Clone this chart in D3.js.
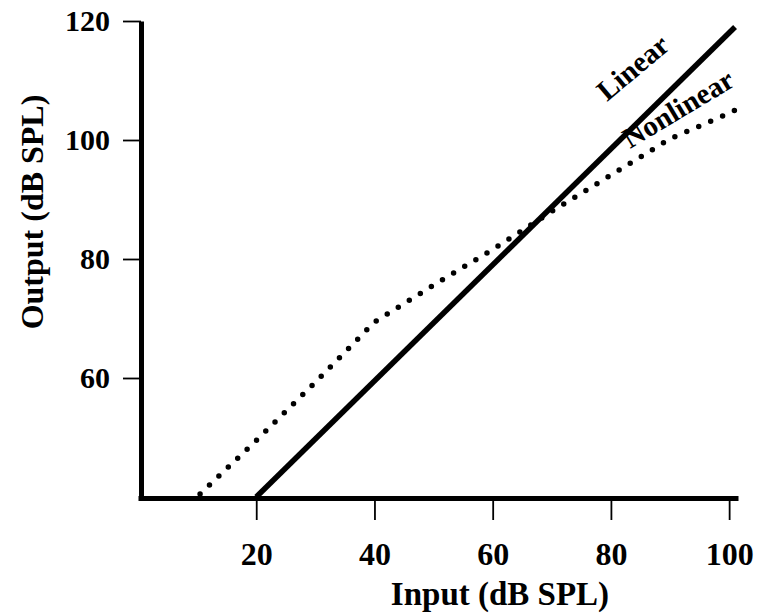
<!DOCTYPE html>
<html>
<head>
<meta charset="utf-8">
<script src="https://cdn.jsdelivr.net/npm/d3@7/dist/d3.min.js"></script>
<style>
  html, body { margin: 0; padding: 0; background: #fff; }
  svg { display: block; }
  text { font-family: "Liberation Serif", "Times New Roman", serif; font-weight: bold; fill: #000; }
</style>
</head>
<body>
<svg id="chart" width="763" height="614"></svg>
<script>
// ---- data ----
const xTicks = [20, 40, 60, 80, 100];
const yTicks = [60, 80, 100, 120];
const linearInput = [20, 101];
const linearOutput = [40, 119];
const nonlinearInput = [10.5, 20, 30, 40, 50, 60, 70, 80, 90, 100, 101];
const nonlinearOutput = [40.5, 49.5, 59.3, 69.4, 75.6, 81.6, 88.0, 94.1, 100.2, 104.5, 105];
const xTitle = "Input (dB SPL)";
const yTitle = "Output (dB SPL)";
const seriesLabels = ["Linear", "Nonlinear"];

// ---- scales ----
const svg = d3.select("#chart");
const x = d3.scaleLinear().domain([0, 101.5]).range([138, 738]);
const y = d3.scaleLinear().domain([40, 120]).range([497, 21]);
const axisX0 = 498, axisY0 = 141;

// ---- axes ----
const gx = svg.append("g").attr("transform", `translate(0,${axisX0})`)
  .call(d3.axisBottom(x).tickValues(xTicks).tickSize(22).tickSizeOuter(0).tickPadding(22));
gx.select(".domain").attr("stroke", "#000").attr("stroke-width", 5);
gx.selectAll(".tick line").attr("stroke", "#000").attr("stroke-width", 1.8);
gx.selectAll(".tick text").attr("font-size", 32).attr("font-family", "Liberation Serif").attr("font-weight", "bold").attr("fill", "#000");

const gy = svg.append("g").attr("transform", `translate(${axisY0},0)`)
  .call(d3.axisLeft(y).tickValues(yTicks).tickSize(18).tickSizeOuter(0).tickPadding(13));
gy.select(".domain").attr("stroke", "#000").attr("stroke-width", 5);
gy.selectAll(".tick line").attr("stroke", "#000").attr("stroke-width", 1.8);
gy.selectAll(".tick text").attr("font-size", 30).attr("font-family", "Liberation Serif").attr("font-weight", "bold").attr("fill", "#000");

// ---- titles ----
svg.append("text").attr("x", 500).attr("y", 605).attr("text-anchor", "middle")
  .attr("font-size", 33).text(xTitle);
svg.append("text").attr("transform", "translate(43,212) rotate(-90)").attr("text-anchor", "middle")
  .attr("font-size", 32).text(yTitle);

// ---- lines ----
const line = d3.line().x(d => x(d[0])).y(d => y(d[1]));
const linData = linearInput.map((v, i) => [v, linearOutput[i]]);
const nonData = nonlinearInput.map((v, i) => [v, nonlinearOutput[i]]);

svg.append("path").datum(linData).attr("d", line)
  .attr("fill", "none").attr("stroke", "#000").attr("stroke-width", 5.5);
svg.append("path").datum(nonData).attr("d", line)
  .attr("fill", "none").attr("stroke", "#000").attr("stroke-width", 5.5)
  .attr("stroke-linecap", "round").attr("stroke-dasharray", "0 13");

// ---- series labels ----
svg.append("text").attr("transform", "translate(607,102) rotate(-40)")
  .attr("font-size", 29).text(seriesLabels[0]);
svg.append("text").attr("transform", "translate(630,149) rotate(-31)")
  .attr("font-size", 29).text(seriesLabels[1]);
</script>
</body>
</html>
